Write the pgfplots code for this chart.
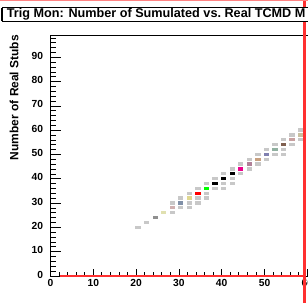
\documentclass[border=0pt]{standalone}
\usepackage{fontspec}
\setmainfont{Liberation Sans}
\usepackage{pgfplots}
\pgfplotsset{compat=1.18}
\definecolor{gbin}{HTML}{C8C8C8}
\definecolor{c24}{HTML}{909090}
\definecolor{c26}{HTML}{E0E0B0}
\definecolor{c28}{HTML}{D0B0B0}
\definecolor{c30}{HTML}{8090A8}
\definecolor{c32}{HTML}{E0D890}
\definecolor{c46}{HTML}{B08098}
\definecolor{c48}{HTML}{C8A080}
\definecolor{c50}{HTML}{8080B0}
\definecolor{c52}{HTML}{90B0A0}
\definecolor{c54}{HTML}{806050}
\definecolor{c56}{HTML}{C8A0A0}
\definecolor{c58}{HTML}{C8C0A0}
\definecolor{rootred}{HTML}{FF3030}
\pgfplotsset{
  binmark/.style={only marks, mark=square*, mark size=1.15bp,
    mark options={xscale=1.87, draw=#1, fill=#1, line width=0.1pt, xshift=0.8bp, yshift=0.6bp}},
  common/.style={
    scale only axis, width=428bp, height=240.5bp,
    at={(50.5bp,27bp)}, anchor=south west,
    xmin=0, xmax=100, ymin=0, ymax=99,
    axis line style={line width=0.9bp, black},
    tick style={line width=0.8bp, black},
    tick pos=left, tick align=inside,
    minor x tick num=4, minor y tick num=4,
    xtick distance=10, ytick distance=10,
    /pgf/number format/assume math mode=true,
    ticklabel style={font=\fontsize{10.3}{12}\selectfont\bfseries},
  }
}
\begin{document}
\begin{tikzpicture}
\begin{axis}[common, xtick=\empty,
  major tick length=11bp, minor tick length=5.5bp,
  yticklabel style={xshift=-4bp, yshift=1.5bp}]
\addplot[binmark=gbin] coordinates {
(20,20) (22,22) (28,26) (28,30) (30,28) (30,32) (32,28) (32,30) (32,34)
(34,30) (34,32) (34,36) (36,32) (36,34) (36,38) (38,36) (38,40)
(40,36) (40,38) (40,42) (42,38) (42,40) (42,44) (44,42) (44,46)
(46,44) (46,48) (48,46) (48,50) (50,48) (50,52) (52,50) (52,54)
(54,50) (54,52) (54,56) (56,54) (56,58) (58,56) (58,60)};
\addplot[binmark=c24] coordinates {(24,24)};
\addplot[binmark=c26] coordinates {(26,26)};
\addplot[binmark=c28] coordinates {(28,28)};
\addplot[binmark=c30] coordinates {(30,30)};
\addplot[binmark=c32] coordinates {(32,32)};
\addplot[binmark=red] coordinates {(34,34)};
\addplot[binmark=green] coordinates {(36,36)};
\addplot[binmark=black] coordinates {(38,38) (40,40) (42,42)};
\addplot[binmark=magenta] coordinates {(44,44)};
\addplot[binmark=c46] coordinates {(46,46)};
\addplot[binmark=c48] coordinates {(48,48)};
\addplot[binmark=c50] coordinates {(50,50)};
\addplot[binmark=c52] coordinates {(52,52)};
\addplot[binmark=c54] coordinates {(54,54)};
\addplot[binmark=c56] coordinates {(56,56)};
\addplot[binmark=c58] coordinates {(58,58)};
\end{axis}
\begin{axis}[common, ytick=\empty,
  major tick length=7bp, minor tick length=3.5bp]
\end{axis}
\draw[rootred, line width=1.8bp] (60bp,27bp) -- (305bp,27bp);
\draw[rootred, line width=2.2bp] (304.5bp,0bp) -- (304.5bp,303bp);
\draw[rootred!60, line width=0.8bp] (0bp,302.6bp) -- (308bp,302.6bp);
\node[rotate=90, anchor=east, inner sep=0pt, font=\fontsize{12}{14}\selectfont\bfseries] at (14bp,268bp) {Number of Real Stubs};
\fill[white] (2.5bp,282bp) rectangle (330bp,295.3bp);
\draw[line width=0.8bp] (2.5bp,282bp) rectangle (330bp,295.3bp);
\draw[line width=1.3bp] (2bp,281.6bp) -- (330bp,281.6bp);
\draw[line width=1.3bp] (2bp,281.6bp) -- (2bp,295.3bp);
\node[anchor=base west, inner sep=0pt, font=\fontsize{12.7}{14}\selectfont\bfseries] at (6.7bp,285.8bp) {Trig Mon: Number of Sumulated vs.\ Real TCMD M};
\pgfresetboundingbox
\path[use as bounding box] (0,0) rectangle (308bp,303bp);
\end{tikzpicture}
\end{document}
